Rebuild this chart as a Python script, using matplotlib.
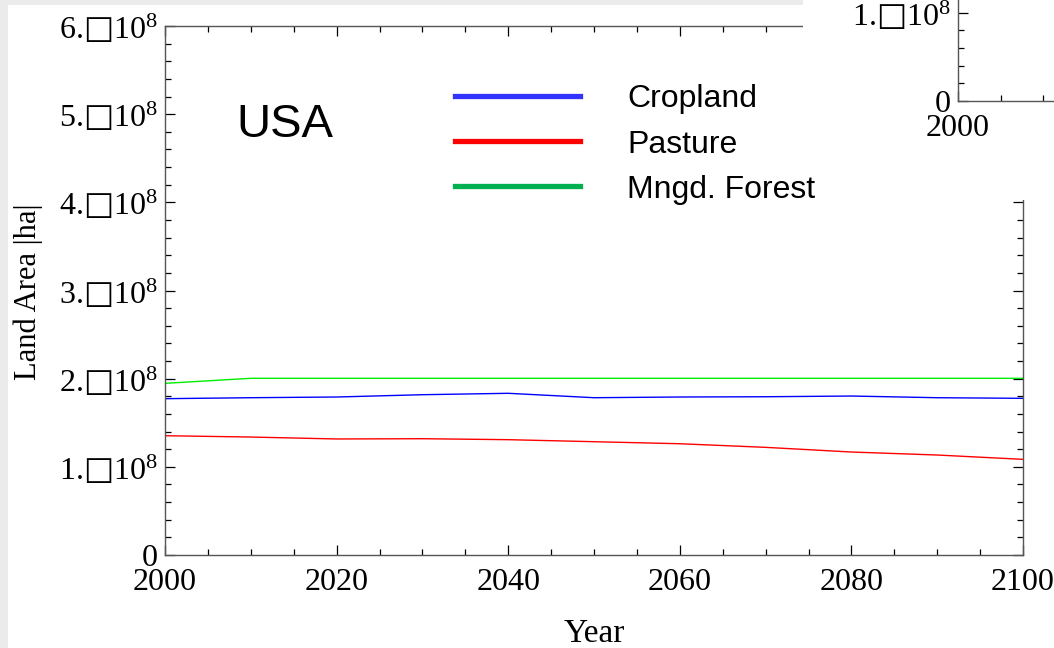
import matplotlib
matplotlib.use("Agg")
import matplotlib.pyplot as plt
from matplotlib.patches import Rectangle
from matplotlib.ticker import MultipleLocator, FuncFormatter

plt.rcParams['font.family'] = ['Liberation Serif', 'DejaVu Sans']
plt.rcParams['mathtext.fontset'] = 'custom'
plt.rcParams['mathtext.rm'] = 'Liberation Serif'
plt.rcParams['mathtext.it'] = 'Liberation Serif'
plt.rcParams['mathtext.sf'] = 'Noto Sans CJK SC'

# ---- data ----
years = [2000, 2010, 2020, 2030, 2040, 2050, 2060, 2070, 2080, 2090, 2100]
cropland = [1.773e8, 1.784e8, 1.792e8, 1.818e8, 1.834e8, 1.784e8, 1.792e8, 1.795e8, 1.803e8, 1.784e8, 1.777e8]
pasture = [1.353e8, 1.338e8, 1.316e8, 1.319e8, 1.308e8, 1.285e8, 1.262e8, 1.221e8, 1.168e8, 1.134e8, 1.085e8]
forest = [1.947e8, 2.004e8, 2.004e8, 2.004e8, 2.004e8, 2.004e8, 2.004e8, 2.004e8, 2.004e8, 2.004e8, 2.004e8]
series_names = ["Cropland", "Pasture", "Mngd. Forest"]
line_colors = ["#0000ff", "#ff0000", "#00ee00"]
legend_colors = ["#3333ff", "#ff0000", "#00b050"]
title = "USA"
xlabel = "Year"
ylabel = "Land Area |ha|"

W, H = 1054, 648
fig = plt.figure(figsize=(W / 100, H / 100), dpi=100)
fig.patch.set_facecolor('#ebebeb')

def px(x0, y0, x1, y1):
    # pixel box (top-left origin) -> figure coords
    return [x0 / W, 1 - y1 / H, (x1 - x0) / W, (y1 - y0) / H]

bg = Rectangle((8 / W, 0), 1 - 8 / W, 1 - 5 / H, transform=fig.transFigure,
               facecolor='white', edgecolor='none', zorder=-5)
fig.patches.append(bg)

FS = 23

def sci_fmt(v, pos):
    if abs(v) < 1:
        return "0"
    m = v / 1e8
    return "%d.$\\mathsf{\u25a1}\\mathrm{10}^{8}$" % round(m)

def style_axes(ax):
    for s in ax.spines.values():
        s.set_color('#555555')
        s.set_linewidth(1.0)
    ax.tick_params(which='both', direction='in', color='black', width=0.9,
                   labelsize=FS)
    ax.tick_params(which='major', length=7)
    ax.tick_params(which='minor', length=4)

# ---- main axes ----
ax = fig.add_axes(px(165, 26, 1023, 555))
ax.set_facecolor('none')
for yv, c in zip([cropland, pasture, forest], line_colors):
    ax.plot(years, yv, color=c, lw=1.0)
ax.set_xlim(2000, 2100)
ax.set_ylim(0, 6e8)
ax.xaxis.set_major_locator(MultipleLocator(20))
ax.xaxis.set_minor_locator(MultipleLocator(5))
ax.yaxis.set_major_locator(MultipleLocator(1e8))
ax.yaxis.set_minor_locator(MultipleLocator(2e7))
ax.yaxis.set_major_formatter(FuncFormatter(sci_fmt))
ax.xaxis.set_major_formatter(FuncFormatter(lambda v, p: "%d" % v))
style_axes(ax)
ax.tick_params(which='both', top=True, right=True)
ax.tick_params(axis='x', pad=9)
ax.tick_params(axis='y', pad=5)

ax.text(236 / W, 1 - 137 / H, title, transform=fig.transFigure,
        family='Liberation Sans', fontsize=34, ha='left', va='baseline')
fig.text(594 / W, 1 - 642 / H, xlabel, fontsize=FS + 1, ha='center', va='baseline')
fig.text(28 / W, 1 - 292 / H, ylabel, fontsize=FS - 1, ha='center', va='center',
         rotation=90)

# covering panel (top-right)
cover = Rectangle((803 / W, 1 - 200 / H), 1 - 803 / W, 200 / H,
                  transform=fig.transFigure, facecolor='white',
                  edgecolor='none', zorder=1)
fig.patches.append(cover)

# ---- second (partial) panel ----
ax2 = fig.add_axes(px(958, 0, 1054, 101), zorder=2)
ax2.set_facecolor('none')
ax2.set_xlim(2000, 2000 + 96 / 8.5)
ax2.set_ylim(0, 101 / 88.17 * 1e8)
ax2.xaxis.set_major_locator(MultipleLocator(20))
ax2.xaxis.set_minor_locator(MultipleLocator(5))
ax2.yaxis.set_major_locator(MultipleLocator(1e8))
ax2.yaxis.set_minor_locator(MultipleLocator(2e7))
ax2.yaxis.set_major_formatter(FuncFormatter(sci_fmt))
ax2.xaxis.set_major_formatter(FuncFormatter(lambda v, p: "%d" % v))
style_axes(ax2)
ax2.spines['top'].set_visible(False)
ax2.spines['right'].set_visible(False)
ax2.tick_params(axis='x', pad=9)
ax2.tick_params(axis='y', pad=5)

# ---- legend ----
handles = ax.get_lines()
leg = fig.legend(handles, series_names, loc='upper left',
                 bbox_to_anchor=(455 / W, 1 - 84.5 / H),
                 bbox_transform=fig.transFigure,
                 prop={'family': 'Liberation Sans', 'size': 23},
                 frameon=False, borderpad=0, borderaxespad=0,
                 handlelength=3.92, handletextpad=1.47, labelspacing=0.47)
leg.set_zorder(5)
for ln, c in zip(leg.get_lines(), legend_colors):
    ln.set_linewidth(3.8)
    ln.set_color(c)

fig.savefig("out.png", dpi=100, facecolor=fig.get_facecolor())
